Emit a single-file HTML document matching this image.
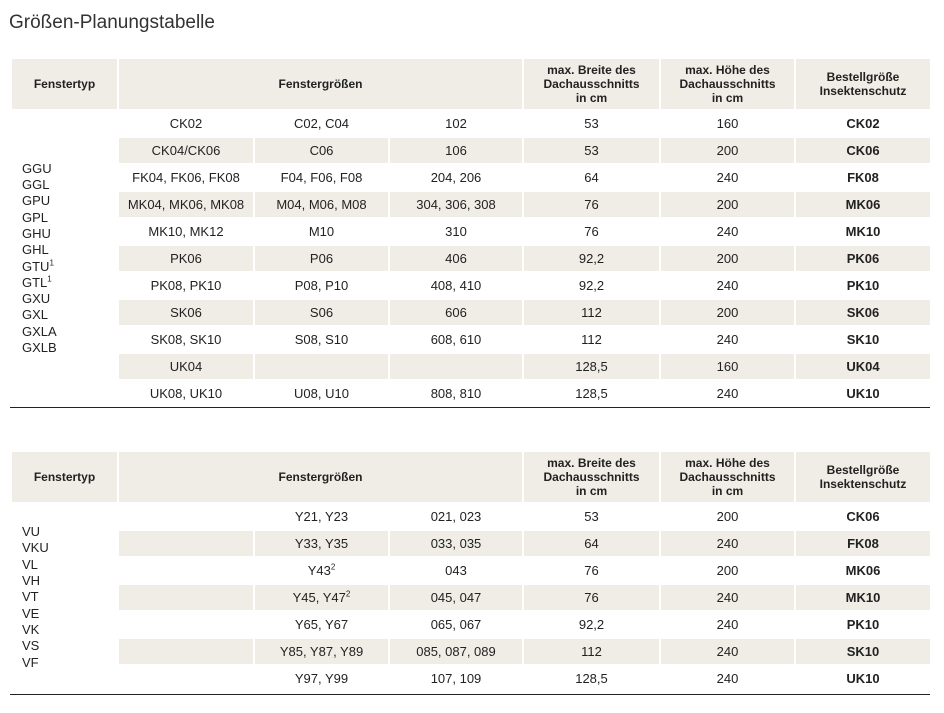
<!DOCTYPE html>
<html><head><meta charset="utf-8"><style>
body{margin:0;width:944px;height:713px;background:#fff;font-family:"Liberation Sans",sans-serif;color:#222;position:relative;overflow:hidden}
h1{position:absolute;left:9px;top:12px;margin:0;font-weight:normal;font-size:19px;color:#333}
table{position:absolute;left:10px;border-collapse:collapse;table-layout:fixed;width:920px;font-size:13px}
td,th{border:2px solid #fff;text-align:center;padding:0;height:25px}
th{background:#f0ede6;font-weight:bold;font-size:12px;height:50px;line-height:14px}
tr.s td.c{background:#f0ede6}
td.t{text-align:left;padding-left:10px;line-height:16.3px;vertical-align:middle;background:#fff}
td.b{font-weight:bold}
.bot{position:absolute;left:10px;width:920px;height:1px;background:#222}
sup{font-size:8px;line-height:0}
</style></head><body>
<h1>Größen-Planungstabelle</h1>
<table style="top:57px">
<colgroup><col style="width:107px"><col style="width:136px"><col style="width:135px"><col style="width:134px"><col style="width:137px"><col style="width:135px"><col style="width:136px"></colgroup>
<tr><th>Fenstertyp</th><th colspan="3">Fenstergrößen</th><th>max. Breite des<br>Dachausschnitts<br>in cm</th><th>max. Höhe des<br>Dachausschnitts<br>in cm</th><th>Bestellgröße<br>Insektenschutz</th></tr>
<tr><td class="t" rowspan="11">GGU<br>GGL<br>GPU<br>GPL<br>GHU<br>GHL<br>GTU<sup>1</sup><br>GTL<sup>1</sup><br>GXU<br>GXL<br>GXLA<br>GXLB</td><td class="c">CK02</td><td class="c">C02, C04</td><td class="c">102</td><td class="c">53</td><td class="c">160</td><td class="c b">CK02</td></tr>
<tr class="s"><td class="c">CK04/CK06</td><td class="c">C06</td><td class="c">106</td><td class="c">53</td><td class="c">200</td><td class="c b">CK06</td></tr>
<tr><td class="c">FK04, FK06, FK08</td><td class="c">F04, F06, F08</td><td class="c">204, 206</td><td class="c">64</td><td class="c">240</td><td class="c b">FK08</td></tr>
<tr class="s"><td class="c">MK04, MK06, MK08</td><td class="c">M04, M06, M08</td><td class="c">304, 306, 308</td><td class="c">76</td><td class="c">200</td><td class="c b">MK06</td></tr>
<tr><td class="c">MK10, MK12</td><td class="c">M10</td><td class="c">310</td><td class="c">76</td><td class="c">240</td><td class="c b">MK10</td></tr>
<tr class="s"><td class="c">PK06</td><td class="c">P06</td><td class="c">406</td><td class="c">92,2</td><td class="c">200</td><td class="c b">PK06</td></tr>
<tr><td class="c">PK08, PK10</td><td class="c">P08, P10</td><td class="c">408, 410</td><td class="c">92,2</td><td class="c">240</td><td class="c b">PK10</td></tr>
<tr class="s"><td class="c">SK06</td><td class="c">S06</td><td class="c">606</td><td class="c">112</td><td class="c">200</td><td class="c b">SK06</td></tr>
<tr><td class="c">SK08, SK10</td><td class="c">S08, S10</td><td class="c">608, 610</td><td class="c">112</td><td class="c">240</td><td class="c b">SK10</td></tr>
<tr class="s"><td class="c">UK04</td><td class="c"></td><td class="c"></td><td class="c">128,5</td><td class="c">160</td><td class="c b">UK04</td></tr>
<tr><td class="c">UK08, UK10</td><td class="c">U08, U10</td><td class="c">808, 810</td><td class="c">128,5</td><td class="c">240</td><td class="c b">UK10</td></tr>
</table>
<div class="bot" style="top:407px"></div>
<table style="top:450px">
<colgroup><col style="width:107px"><col style="width:136px"><col style="width:135px"><col style="width:134px"><col style="width:137px"><col style="width:135px"><col style="width:136px"></colgroup>
<tr><th>Fenstertyp</th><th colspan="3">Fenstergrößen</th><th>max. Breite des<br>Dachausschnitts<br>in cm</th><th>max. Höhe des<br>Dachausschnitts<br>in cm</th><th>Bestellgröße<br>Insektenschutz</th></tr>
<tr><td class="t" rowspan="7">VU<br>VKU<br>VL<br>VH<br>VT<br>VE<br>VK<br>VS<br>VF</td><td class="c"></td><td class="c">Y21, Y23</td><td class="c">021, 023</td><td class="c">53</td><td class="c">200</td><td class="c b">CK06</td></tr>
<tr class="s"><td class="c"></td><td class="c">Y33, Y35</td><td class="c">033, 035</td><td class="c">64</td><td class="c">240</td><td class="c b">FK08</td></tr>
<tr><td class="c"></td><td class="c">Y43<sup>2</sup></td><td class="c">043</td><td class="c">76</td><td class="c">200</td><td class="c b">MK06</td></tr>
<tr class="s"><td class="c"></td><td class="c">Y45, Y47<sup>2</sup></td><td class="c">045, 047</td><td class="c">76</td><td class="c">240</td><td class="c b">MK10</td></tr>
<tr><td class="c"></td><td class="c">Y65, Y67</td><td class="c">065, 067</td><td class="c">92,2</td><td class="c">240</td><td class="c b">PK10</td></tr>
<tr class="s"><td class="c"></td><td class="c">Y85, Y87, Y89</td><td class="c">085, 087, 089</td><td class="c">112</td><td class="c">240</td><td class="c b">SK10</td></tr>
<tr><td class="c"></td><td class="c">Y97, Y99</td><td class="c">107, 109</td><td class="c">128,5</td><td class="c">240</td><td class="c b">UK10</td></tr>
</table>
<div class="bot" style="top:694px"></div>
</body></html>
